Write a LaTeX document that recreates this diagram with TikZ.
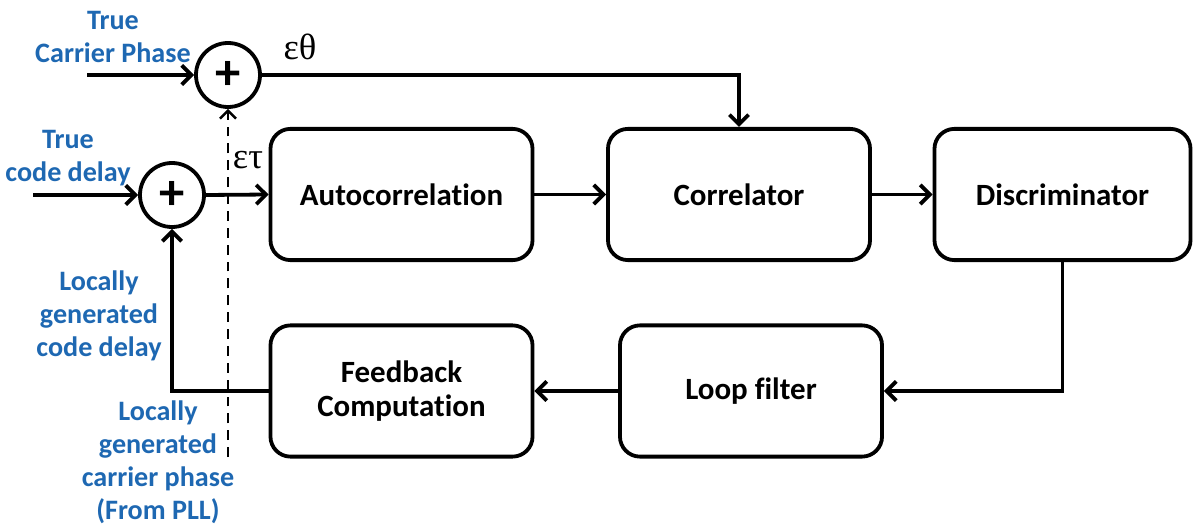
\documentclass[tikz,border=0pt]{standalone}
\usepackage{fontspec}
\setmainfont{Carlito}[Ligatures=NoCommon]
\newfontfamily\grk{Liberation Serif}
\usetikzlibrary{arrows.meta}
\tikzset{>={Straight Barb[length=2.4mm,width=4.8mm]}}
\definecolor{lblblue}{RGB}{30,104,178}

\begin{document}
\begin{tikzpicture}[x=0.025cm, y=-0.025cm, line width=2.7pt,
    block/.style = {draw, rounded corners=0.5cm, minimum width=6.55cm, minimum height=3.28cm, font=\fontsize{22}{26}\selectfont\bfseries, align=center},
    sum/.style = {draw, circle, minimum size=1.6cm, inner sep=0pt, font=\fontsize{36}{36}\selectfont\bfseries},
    lbl/.style = {text=lblblue, font=\fontsize{20}{23.4}\selectfont\bfseries, align=center},
    err/.style = {font=\fontsize{26}{26}\grk}]
    \useasboundingbox (0,0) rectangle (1197,524);
    \node [sum] (sumP) at (228,75) {+};
    \node [sum] (sumD) at (172,195) {+};
    \node [block] (auto) at (401.5,194.5) {Autocorrelation};
    \node [block] (corr) at (739,194.5) {Correlator};
    \node [block, minimum width=6.4cm] (disc) at (1062.5,194.5) {Discriminator};
    \node [block] (fb) at (401.5,391) {Feedback\\[-2pt]Computation};
    \node [block] (loop) at (751,391) {Loop filter};
    \coordinate (inP) at (87,75);
    \coordinate (inD) at (33,195);
    \coordinate (pll) at (228,457);
    \node [lbl] (tcp) at (113,37) {True\\Carrier Phase};
    \node [lbl] (tcd) at (68,158) {True\\code delay};
    \node [lbl] (lcd) at (99,316) {Locally\\generated\\code delay};
    \node [lbl] (lcp) at (158,462) {Locally\\generated\\carrier phase\\(From PLL)};
    \node [err] (eth) at (300,47) {εθ};
    \node [err] (eta) at (248,160) {ετ};
    \draw [->] (inP) -- (sumP.west);
    \draw [->] (inD) -- (sumD.west);
    \draw [->] (sumP.east) -| (corr.north);
    \draw [->] (sumD.east) -- (auto.west);
    \draw [->] (auto) -- (corr);
    \draw [->] (corr) -- (disc);
    \draw [->] (disc.south) |- (loop.east);
    \draw [->] (loop) -- (fb);
    \draw [->] (fb.west) -| (sumD.south);
    \draw [->, line width=1.8pt, dash pattern=on 7pt off 5pt, >={Straight Barb[length=2mm,width=4mm]}] (pll) -- (sumP.south);
\end{tikzpicture}
\end{document}
